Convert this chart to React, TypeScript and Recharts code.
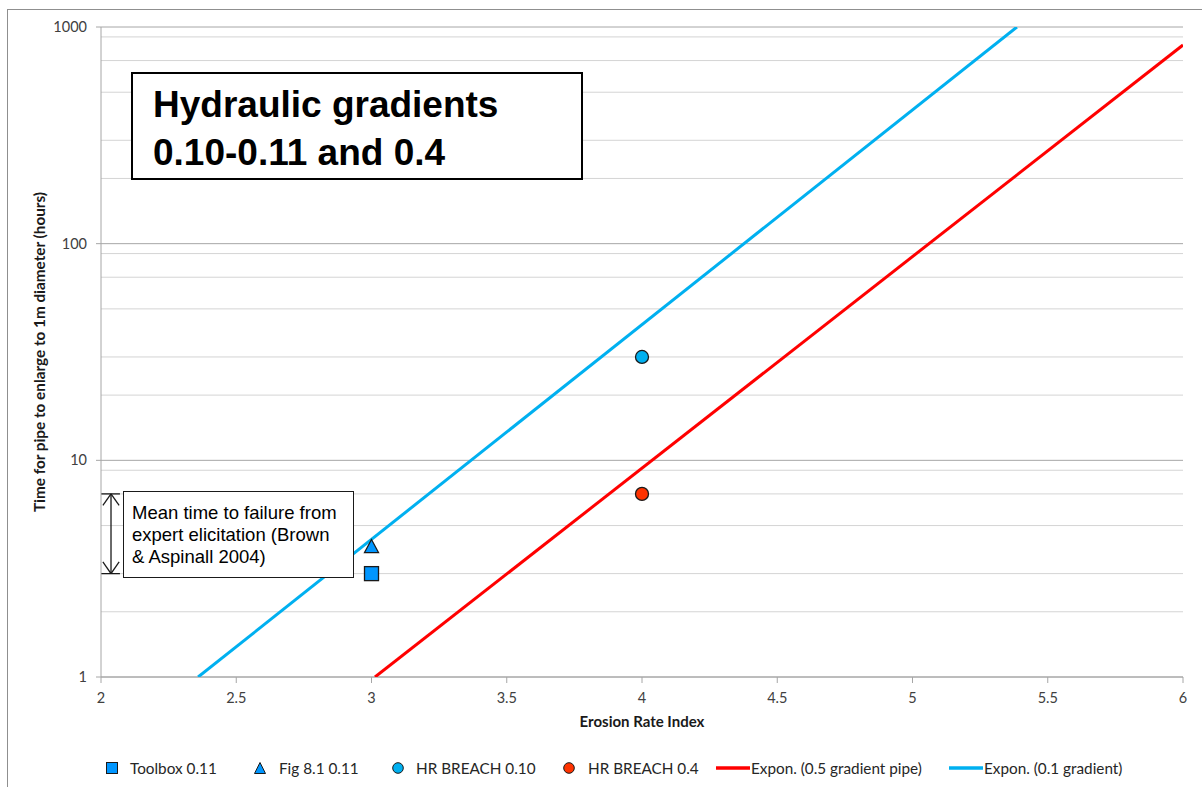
import React from "react";
import {
  ScatterChart,
  Scatter,
  XAxis,
  YAxis,
  CartesianGrid,
  ReferenceLine,
  Label,
} from "recharts";

// axis ticks
const xTicks = [2, 2.5, 3, 3.5, 4, 4.5, 5, 5.5, 6];
const yTicks = [1, 10, 100, 1000];
const yMinor = [
  2, 3, 4, 5, 6, 7, 8, 9,
  20, 30, 40, 50, 60, 70, 80, 90,
  200, 300, 400, 500, 600, 700, 800, 900,
];

// observed times (hours) against erosion rate index
const toolbox011 = [{ x: 3, y: 3 }];
const fig81011 = [{ x: 3, y: 4 }];
const breach010 = [{ x: 4, y: 30 }];
const breach04 = [{ x: 4, y: 7 }];

// exponential trendlines are straight on the log axis, so two end points each
const trendPipe05 = [
  { x: 3.013, y: 1 },
  { x: 6, y: 826 },
];
const trendGrad01 = [
  { x: 2.359, y: 1 },
  { x: 5.386, y: 1000 },
];

// expert elicitation range (hours), drawn as a double arrow by the y axis
const elicitLow = 3;
const elicitHigh = 7;
const arrowX = 2.037;
const capX = [2, 2.07];
const headDx = 0.03;
const headLow = 3.4;
const headHigh = 6.2;

const BLUE_LINE = "#00B0F0";
const RED_LINE = "#FF0000";
const MARK_BLUE = "#0096FF";
const CIRCLE_BLUE = "#00B0F0";
const CIRCLE_RED = "#FF3300";
const EDGE = "#1a1a1a";

const tickFont = { fontSize: 14.5, fill: "#404040", fontFamily: "Lato, sans-serif" };
const axisGrey = "#a6a6a6";

const SquareMark = ({ cx, cy }: any) => (
  <rect x={cx - 7} y={cy - 7} width={14} height={14} fill={MARK_BLUE} stroke={EDGE} strokeWidth={1.3} />
);

const TriangleMark = ({ cx, cy }: any) => (
  <polygon
    points={`${cx},${cy - 7} ${cx - 7},${cy + 6} ${cx + 7},${cy + 6}`}
    fill={MARK_BLUE}
    stroke={EDGE}
    strokeWidth={1.3}
  />
);

const circleMark = (fill: string) => ({ cx, cy }: any) => (
  <circle cx={cx} cy={cy} r={6.5} fill={fill} stroke={EDGE} strokeWidth={1.3} />
);

const NoMark = () => <g />;

const legendItems = [
  { left: 106, textLeft: 130, label: "Toolbox 0.11", kind: "square" },
  { left: 254, textLeft: 279, label: "Fig 8.1 0.11", kind: "triangle" },
  { left: 392, textLeft: 416, label: "HR BREACH 0.10", kind: "circleBlue" },
  { left: 563, textLeft: 588, label: "HR BREACH 0.4", kind: "circleRed" },
  { left: 716, textLeft: 751, label: "Expon. (0.5 gradient pipe)", kind: "lineRed" },
  { left: 949, textLeft: 984, label: "Expon. (0.1 gradient)", kind: "lineBlue" },
];

function LegendGlyph({ kind }: { kind: string }) {
  if (kind === "square")
    return (
      <svg width={12} height={12}>
        <rect x={0.5} y={0.5} width={11} height={11} fill={MARK_BLUE} stroke={EDGE} strokeWidth={1} />
      </svg>
    );
  if (kind === "triangle")
    return (
      <svg width={12} height={12}>
        <polygon points="6,0.5 0.5,11.5 11.5,11.5" fill={MARK_BLUE} stroke={EDGE} strokeWidth={1} />
      </svg>
    );
  if (kind === "circleBlue" || kind === "circleRed")
    return (
      <svg width={12} height={12}>
        <circle cx={6} cy={6} r={5.3} fill={kind === "circleBlue" ? CIRCLE_BLUE : CIRCLE_RED} stroke={EDGE} strokeWidth={1} />
      </svg>
    );
  return (
    <svg width={34} height={6}>
      <line x1={0} y1={3} x2={34} y2={3} stroke={kind === "lineRed" ? RED_LINE : BLUE_LINE} strokeWidth={3.5} />
    </svg>
  );
}

export default function App() {
  return (
    <div style={{ position: "absolute", left: 0, top: 0, width: 1202, height: 787, background: "#fff" }}>
      <div
        style={{
          position: "absolute",
          left: 7,
          top: 9,
          width: 1195,
          height: 778,
          borderTop: "1px solid #8f8f8f",
          borderLeft: "1px solid #8f8f8f",
          boxSizing: "border-box",
        }}
      />
      <div style={{ position: "absolute", left: 0, top: 0 }}>
        <ScatterChart width={1202} height={787} margin={{ top: 27, right: 19, bottom: 80, left: 0 }}>
          <CartesianGrid horizontal vertical={false} horizontalValues={yMinor} stroke="#d4d4d4" />
          <CartesianGrid horizontal vertical={false} horizontalValues={yTicks} stroke="#a6a6a6" />
          <XAxis
            type="number"
            dataKey="x"
            domain={[2, 6]}
            ticks={xTicks}
            height={30}
            tick={tickFont}
            tickSize={6}
            tickMargin={10}
            stroke={axisGrey}
            allowDataOverflow
          >
            <Label
              content={({ viewBox }: any) => (
                <text
                  x={viewBox.x + viewBox.width / 2}
                  y={727}
                  textAnchor="middle"
                  fontFamily="Lato, sans-serif"
                  fontWeight="bold"
                  fontSize={15}
                  fill="#1a1a1a"
                >
                  Erosion Rate Index
                </text>
              )}
            />
          </XAxis>
          <YAxis
            type="number"
            dataKey="y"
            scale="log"
            domain={[1, 1000]}
            ticks={yTicks}
            width={101}
            tick={tickFont}
            tickSize={5}
            tickMargin={9}
            stroke={axisGrey}
            allowDataOverflow
          >
            <Label
              content={({ viewBox }: any) => {
                const cy = viewBox.y + viewBox.height / 2;
                return (
                  <text
                    x={45}
                    y={cy}
                    transform={`rotate(-90, 45, ${cy})`}
                    textAnchor="middle"
                    fontFamily="Lato, sans-serif"
                    fontWeight="bold"
                    fontSize={15.3}
                    fill="#1a1a1a"
                  >
                    Time for pipe to enlarge to 1m diameter (hours)
                  </text>
                );
              }}
            />
          </YAxis>

          {/* elicitation range arrow */}
          <ReferenceLine segment={[{ x: capX[0], y: elicitHigh }, { x: capX[1], y: elicitHigh }]} stroke="#1a1a1a" strokeWidth={1.3} />
          <ReferenceLine segment={[{ x: capX[0], y: elicitLow }, { x: capX[1], y: elicitLow }]} stroke="#1a1a1a" strokeWidth={1.3} />
          <ReferenceLine segment={[{ x: arrowX, y: elicitLow }, { x: arrowX, y: elicitHigh }]} stroke="#1a1a1a" strokeWidth={1.3} />
          <ReferenceLine segment={[{ x: arrowX - headDx, y: headHigh }, { x: arrowX, y: elicitHigh }]} stroke="#1a1a1a" strokeWidth={1.3} />
          <ReferenceLine segment={[{ x: arrowX + headDx, y: headHigh }, { x: arrowX, y: elicitHigh }]} stroke="#1a1a1a" strokeWidth={1.3} />
          <ReferenceLine segment={[{ x: arrowX - headDx, y: headLow }, { x: arrowX, y: elicitLow }]} stroke="#1a1a1a" strokeWidth={1.3} />
          <ReferenceLine segment={[{ x: arrowX + headDx, y: headLow }, { x: arrowX, y: elicitLow }]} stroke="#1a1a1a" strokeWidth={1.3} />

          <Scatter
            name="Expon. (0.5 gradient pipe)"
            data={trendPipe05}
            line={{ stroke: RED_LINE, strokeWidth: 3 }}
            shape={NoMark}
            isAnimationActive={false}
          />
          <Scatter
            name="Expon. (0.1 gradient)"
            data={trendGrad01}
            line={{ stroke: BLUE_LINE, strokeWidth: 3 }}
            shape={NoMark}
            isAnimationActive={false}
          />
          <Scatter name="Toolbox 0.11" data={toolbox011} shape={SquareMark} isAnimationActive={false} />
          <Scatter name="Fig 8.1 0.11" data={fig81011} shape={TriangleMark} isAnimationActive={false} />
          <Scatter name="HR BREACH 0.10" data={breach010} shape={circleMark(CIRCLE_BLUE)} isAnimationActive={false} />
          <Scatter name="HR BREACH 0.4" data={breach04} shape={circleMark(CIRCLE_RED)} isAnimationActive={false} />
        </ScatterChart>
      </div>

      {/* title box */}
      <div
        style={{
          position: "absolute",
          left: 131,
          top: 72,
          width: 452,
          height: 108,
          border: "2px solid #000",
          boxSizing: "border-box",
          background: "#fff",
        }}
      />
      <div
        style={{
          position: "absolute",
          left: 153,
          top: 81,
          fontFamily: "'Liberation Sans', Arial, sans-serif",
          fontWeight: "bold",
          fontSize: 37,
          lineHeight: "48px",
          color: "#000",
          whiteSpace: "nowrap",
        }}
      >
        Hydraulic gradients
        <br />
        0.10-0.11 and 0.4
      </div>

      {/* elicitation note */}
      <div
        style={{
          position: "absolute",
          left: 123,
          top: 491,
          width: 231,
          height: 87,
          border: "1px solid #1a1a1a",
          boxSizing: "border-box",
          background: "#fff",
        }}
      />
      <div
        style={{
          position: "absolute",
          left: 132,
          top: 502,
          fontFamily: "'Liberation Sans', Arial, sans-serif",
          fontSize: 18.5,
          lineHeight: "22px",
          color: "#000",
          whiteSpace: "nowrap",
        }}
      >
        Mean time to failure from
        <br />
        expert elicitation (Brown
        <br />
        &amp; Aspinall 2004)
      </div>

      {/* legend */}
      {legendItems.map((it) => (
        <React.Fragment key={it.label}>
          <div
            style={{
              position: "absolute",
              left: it.left,
              top: 768,
              transform: "translateY(-50%)",
              lineHeight: 0,
            }}
          >
            <LegendGlyph kind={it.kind} />
          </div>
          <div
            style={{
              position: "absolute",
              left: it.textLeft,
              top: 758,
              fontFamily: "Lato, sans-serif",
              fontSize: 15.3,
              lineHeight: "20px",
              color: "#262626",
              whiteSpace: "nowrap",
            }}
          >
            {it.label}
          </div>
        </React.Fragment>
      ))}
    </div>
  );
}
